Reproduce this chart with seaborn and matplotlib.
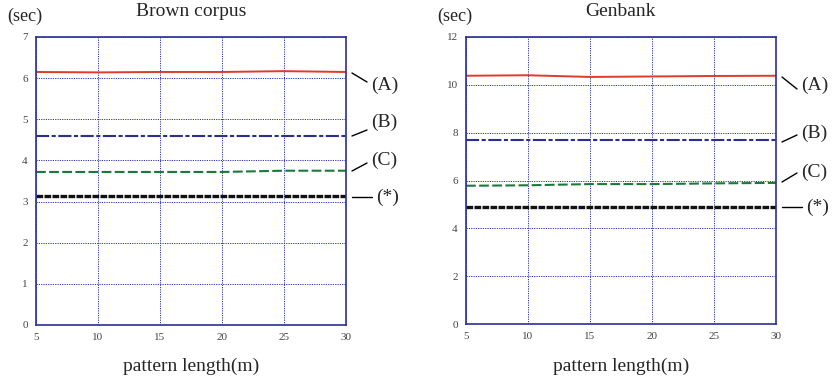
import pandas as pd
import matplotlib.pyplot as plt
import seaborn as sns

m = [5, 10, 15, 20, 25, 30]
series = ['(A)', '(B)', '(C)', '(*)']

brown_a = [6.15, 6.14, 6.15, 6.15, 6.17, 6.15]
brown_b = [4.60, 4.60, 4.60, 4.60, 4.60, 4.60]
brown_c = [3.72, 3.72, 3.72, 3.72, 3.75, 3.75]
brown_s = [3.13, 3.13, 3.13, 3.13, 3.13, 3.13]

gen_a = [10.38, 10.40, 10.33, 10.35, 10.37, 10.38]
gen_b = [7.70, 7.70, 7.70, 7.70, 7.70, 7.70]
gen_c = [5.78, 5.80, 5.85, 5.85, 5.88, 5.90]
gen_s = [4.90, 4.90, 4.90, 4.90, 4.90, 4.90]


def long_form(a, b, c, s):
    rows = []
    for name, vals in zip(series, [a, b, c, s]):
        for x, y in zip(m, vals):
            rows.append({'m': x, 'sec': y, 'algo': name})
    return pd.DataFrame(rows)


sns.set_theme(style="white")
plt.rcParams['font.family'] = ['Liberation Serif', 'DejaVu Serif']

cores = {'(A)': '#e03a2a', '(B)': '#2a2f8f', '(C)': '#1a7a3a', '(*)': '#111111'}
estilos = {'(A)': (None, 1.4), '(B)': ((0, (6.3, 1.2, 2, 1.2)), 1.5),
           '(C)': ((0, (4.7, 1.6)), 1.5), '(*)': ((0, (2.0, 0.4)), 2.4)}

W, H = 836, 380
fig = plt.figure(figsize=(W / 100, H / 100), dpi=100)
ax1 = fig.add_axes([36 / W, 1 - 325 / H, 310 / W, 288 / H])
ax2 = fig.add_axes([466 / W, 1 - 324 / H, 310 / W, 287 / H])

configs = [
    (ax1, long_form(brown_a, brown_b, brown_c, brown_s), 'Brown corpus', 7, range(0, 8),
     [(73, 82, 85), (136, 130, 122), (171, 163, 160), (197, 197, 197)]),
    (ax2, long_form(gen_a, gen_b, gen_c, gen_s), 'Genbank', 12, range(0, 13, 2),
     [(77, 89, 85), (142, 135, 133), (182, 173, 172), (207, 207, 207)]),
]

for ax, df, titulo, ymax, yt, anots in configs:
    for name in series:
        sub = df[df['algo'] == name]
        ls, lw = estilos[name]
        sns.lineplot(data=sub, x='m', y='sec', ax=ax, color=cores[name], lw=lw)
        if ls is not None:
            ax.lines[-1].set_linestyle(ls)
    ax.set_xlim(5, 30)
    ax.set_ylim(0, ymax)
    ax.set_xticks(m)
    ax.set_yticks(list(yt))
    ax.tick_params(labelsize=8, length=0, pad=6, colors='#444444')
    ax.grid(True, color='#2a2fb0', ls=(0, (1.2, 1.2)), lw=0.7)
    for sp in ax.spines.values():
        sp.set_color('#2a2f9a')
        sp.set_linewidth(1.2)
    ax.set_xlabel('')
    ax.set_ylabel('')

    pos = ax.get_position()
    xc = (pos.x0 + pos.x1) / 2
    fig.text(xc, 1 - 12 / H, titulo, fontsize=14, ha='center', va='center')
    fig.text(xc, 1 - 366 / H, 'pattern length(m)', fontsize=14, ha='center', va='center')
    fig.text(pos.x0 - 29 / W, 1 - 16 / H, '(sec)', fontsize=13, ha='left', va='center')

    # rotulos das curvas a direita
    x0 = pos.x1 * W
    for name, (y_ini, y_fim, y_txt) in zip(series, anots):
        comp = 20 if name == '(*)' else 15
        fig.add_artist(plt.Line2D([(x0 + 6) / W, (x0 + 6 + comp) / W],
                                  [1 - y_ini / H, 1 - y_fim / H], color='black', lw=1))
        fig.text((x0 + 6 + comp + 4) / W, 1 - y_txt / H, name, fontsize=14, va='center', ha='left')

plt.savefig('out.png', dpi=100)
